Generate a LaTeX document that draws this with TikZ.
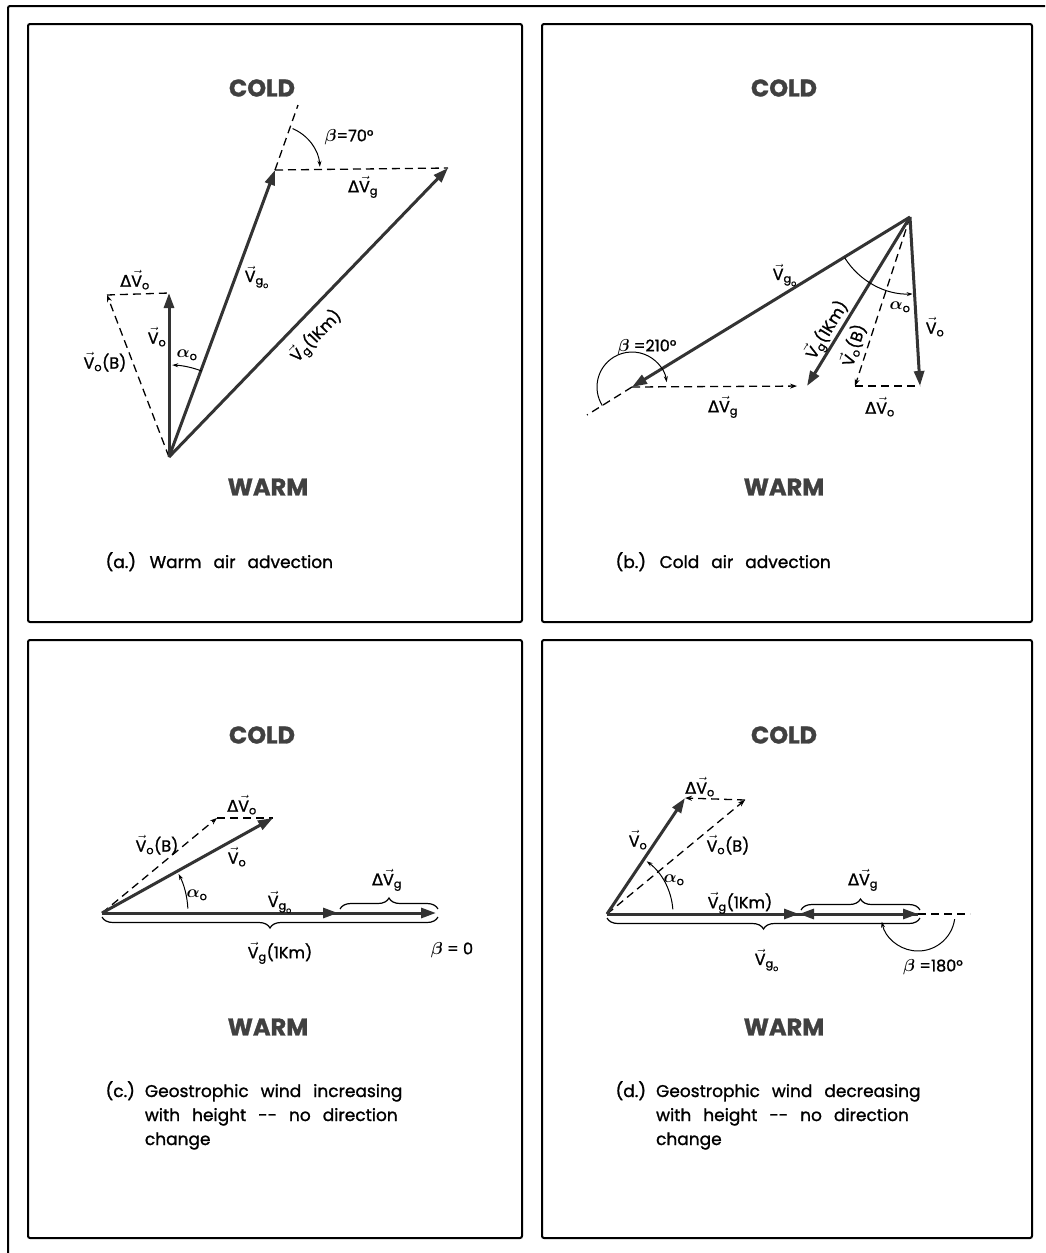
\documentclass[tikz,border=0pt]{standalone}
\usepackage{amsmath}
\usepackage{fontspec}
\setmainfont{Poppins}[FakeBold=1.2]
\newfontfamily\greekfont{DejaVu Sans}[FakeBold=1.2]
\usetikzlibrary{arrows.meta,decorations.pathreplacing}

\newcommand{\vecV}[1]{$\vec{\text{V}}_{\text{#1}}$}
\newcommand{\vecVgo}{$\vec{\text{V}}_{\text{g}_{\text{o}}}$}
\newcommand{\dlt}{{\greekfont Δ}}
\newcommand{\alo}{$\boldsymbol{\alpha}_{\text{o}}$}
\newcommand{\bt}{$\boldsymbol{\beta}$}
\newcommand{\widespace}{\spaceskip=12pt plus 2pt\relax}

\begin{document}
\begin{tikzpicture}[x=1pt, y=-1pt, >=Stealth, line width=1.2pt,
  panelbox/.style={line width=2pt, rounded corners=2pt},
  vec/.style={line width=3pt, draw=black!80, -{Triangle[length=15pt,width=10pt]}},
  dashvec/.style={line width=1.3pt, dash pattern=on 8pt off 5pt, -{Stealth[length=7pt,width=5pt]}},
  dashline/.style={line width=1.3pt, dash pattern=on 8pt off 5pt},
  anglearc/.style={line width=1pt, -{Stealth[length=6pt,width=4pt]}},
  vbrace/.style={line width=1.2pt, decorate, decoration={brace, amplitude=11pt}},
  zone/.style={font=\fontsize{24}{30}\selectfont\bfseries, text=black!75},
  lab/.style={font=\fontsize{16}{18}\selectfont, inner sep=1pt},
  capt/.style={font=\fontsize{17}{24}\selectfont, anchor=base west, inner sep=0pt}]
  \useasboundingbox (0,0) rectangle (1045,1253);
  % Outer border and panels
  \draw[panelbox] (8,1253) -- (8,6) -- (1045,6);
  \draw[panelbox] (28,24) rectangle (522,622);
  \draw[panelbox] (542,24) rectangle (1032,622);
  \draw[panelbox] (28,640) rectangle (522,1238);
  \draw[panelbox] (542,640) rectangle (1032,1238);

  % (a) Warm air advection
  \coordinate (aO) at (169,457);
  \coordinate (aVo) at (169,293);
  \coordinate (aVoB) at (107,295);
  \coordinate (aVgo) at (275,170);
  \coordinate (aVg) at (448,168);
  \coordinate (aExt) at (298,105);
  \draw[dashvec] (aO) -- (aVoB);
  \draw[dashline] (aVoB) -- (aVo);
  \draw[dashline] (aVgo) -- (aVg);
  \draw[dashline] (aVgo) -- (aExt);
  \draw[vec] (aO) -- (aVo);
  \draw[vec] (aO) -- (aVgo);
  \draw[vec] (aO) -- (aVg);
  \draw[anglearc] (aVgo) ++(-67:45) arc[start angle=-67, end angle=-4, radius=45];
  \draw[anglearc] (aO) ++(-69:92) arc[start angle=-69, end angle=-88, radius=92];
  \node[lab] (aLabDVo) at (135,280) {\dlt\vecV{o}};
  \node[lab] (aLabVo) at (157,337) {\vecV{o}};
  \node[lab] (aLabVoB) at (105,362) {\vecV{o}(B)};
  \node[lab] (aLabVgo) at (257,277) {\vecVgo};
  \node[lab, rotate=46] (aLabVg) at (316,336) {\vecV{g}(1Km)};
  \node[lab] (aLabDVg) at (363,187) {\dlt\vecV{g}};
  \node[lab] (aLabAl) at (187,355) {\alo};
  \node[lab] (aLabBeta) at (349,137) {\bt=70°};
  \node[zone] (aCold) at (262,88) {COLD};
  \node[zone] (aWarm) at (268,487) {WARM};
  \node[capt] (aCap) at (105,568) {\widespace(a.) Warm air advection};

  % (b) Cold air advection
  \coordinate (bP) at (910,217);
  \coordinate (bVgo) at (632,387);
  \coordinate (bVg) at (807,386);
  \coordinate (bVo) at (920,386);
  \coordinate (bVoB) at (855,386);
  \coordinate (bExt) at (587,415);
  \draw[dashvec, shorten >=10pt] (bVgo) -- (bVg);
  \draw[dashline] (bVgo) -- (bExt);
  \draw[dashvec] (bP) -- (bVoB);
  \draw[dashline] (bVoB) -- (bVo);
  \draw[vec] (bP) -- (bVgo);
  \draw[vec] (bP) -- (bVg);
  \draw[vec] (bP) -- (bVo);
  \draw[anglearc] (bVgo) ++(148:35) arc[start angle=148, end angle=352, radius=35];
  \draw[anglearc] (bP) ++(148:77) arc[start angle=148, end angle=88, radius=77];
  \node[lab] (bLabVgo) at (785,275) {\vecVgo};
  \node[lab] (bLabAl) at (900,307) {\alo};
  \node[lab, rotate=58.6] (bLabVg) at (827,330) {\vecV{g}(1Km)};
  \node[lab, rotate=72] (bLabVoB) at (853,345) {\vecV{o}(B)};
  \node[lab] (bLabVo) at (935,327) {\vecV{o}};
  \node[lab] (bLabDVg) at (723,407) {\dlt\vecV{g}};
  \node[lab] (bLabDVo) at (880,407) {\dlt\vecV{o}};
  \node[lab] (bLabBeta) at (647,347) {\bt\ =210°};
  \node[zone] (bCold) at (784,88) {COLD};
  \node[zone] (bWarm) at (784,487) {WARM};
  \node[capt] (bCap) at (615,568) {\widespace(b.) Cold air advection};

  % (c) increasing with height
  \coordinate (cO) at (102,913);
  \coordinate (cVgo) at (338,913);
  \coordinate (cVg) at (436,913);
  \coordinate (cVo) at (273,818);
  \coordinate (cVoB) at (217,818);
  \draw[dashvec] (cO) -- (cVoB);
  \draw[dashline] (cVoB) -- (cVo);
  \draw[vec] (cO) -- (cVg);
  \draw[vec] (cO) -- (cVgo);
  \draw[vec] (cO) -- (cVo);
  \draw[anglearc] (cO) ++(-3:86) arc[start angle=-3, end angle=-27, radius=86];
  \draw[vbrace] ([xshift=2pt,yshift=4pt]cVgo) -- ([xshift=2pt,yshift=4pt]cVg);
  \draw[vbrace] ([xshift=2pt,yshift=-4pt]cVg) -- ([yshift=-4pt]cO);
  \node[lab] (cLabDVo) at (242,805) {\dlt\vecV{o}};
  \node[lab] (cLabVoB) at (157,845) {\vecV{o}(B)};
  \node[lab] (cLabVo) at (237,857) {\vecV{o}};
  \node[lab] (cLabAl) at (197,895) {\alo};
  \node[lab] (cLabVgo) at (280,902) {\vecVgo};
  \node[lab] (cLabDVg) at (387,880) {\dlt\vecV{g}};
  \node[lab] (cLabVg) at (280,953) {\vecV{g}(1Km)};
  \node[lab] (cLabBeta) at (452,950) {\bt\ = 0};
  \node[zone] (cCold) at (262,735) {COLD};
  \node[zone] (cWarm) at (268,1027) {WARM};
  \node[capt] (cCap) at (105,1097) {\widespace\begin{tabular}[t]{@{}l@{\hspace{10pt}}l@{}}(c.) & Geostrophic wind increasing\\ & with height -{}- no direction\\ & change\end{tabular}};

  % (d) decreasing with height
  \coordinate (dO) at (607,914);
  \coordinate (dVo) at (685,798);
  \coordinate (dVoB) at (745,800);
  \coordinate (dVg) at (799,914);
  \coordinate (dVgo) at (918,914);
  \coordinate (dExt) at (970,914);
  \draw[dashvec] (dO) -- (dVoB);
  \draw[dashvec] (dVoB) -- (dVo);
  \draw[dashline] (dVgo) -- (dExt);
  \draw[vec] (dO) -- (dVgo);
  \draw[vec] (dO) -- (dVg);
  \draw[vec] (dVgo) -- (dVg);
  \draw[vec] (dO) -- (dVo);
  \draw[anglearc] (dO) ++(-4:66) arc[start angle=-4, end angle=-53, radius=66];
  \draw[anglearc] (dVgo) ++(8:37) arc[start angle=8, end angle=168, radius=37];
  \draw[vbrace] ([xshift=2pt,yshift=4pt]dVg) -- ([xshift=2pt,yshift=4pt]dVgo);
  \draw[vbrace] ([xshift=2pt,yshift=-4pt]dVgo) -- ([yshift=-4pt]dO);
  \node[lab] (dLabDVo) at (700,787) {\dlt\vecV{o}};
  \node[lab] (dLabVo) at (638,840) {\vecV{o}};
  \node[lab] (dLabVoB) at (728,845) {\vecV{o}(B)};
  \node[lab] (dLabAl) at (674,880) {\alo};
  \node[lab] (dLabVg) at (740,903) {\vecV{g}(1Km)};
  \node[lab] (dLabDVg) at (863,880) {\dlt\vecV{g}};
  \node[lab] (dLabVgo) at (767,960) {\vecVgo};
  \node[lab] (dLabBeta) at (933,967) {\bt\ =180°};
  \node[zone] (dCold) at (784,735) {COLD};
  \node[zone] (dWarm) at (784,1027) {WARM};
  \node[capt] (dCap) at (615,1097) {\widespace\begin{tabular}[t]{@{}l@{\hspace{10pt}}l@{}}(d.) & Geostrophic wind decreasing\\ & with height -{}- no direction\\ & change\end{tabular}};
\end{tikzpicture}
\end{document}
